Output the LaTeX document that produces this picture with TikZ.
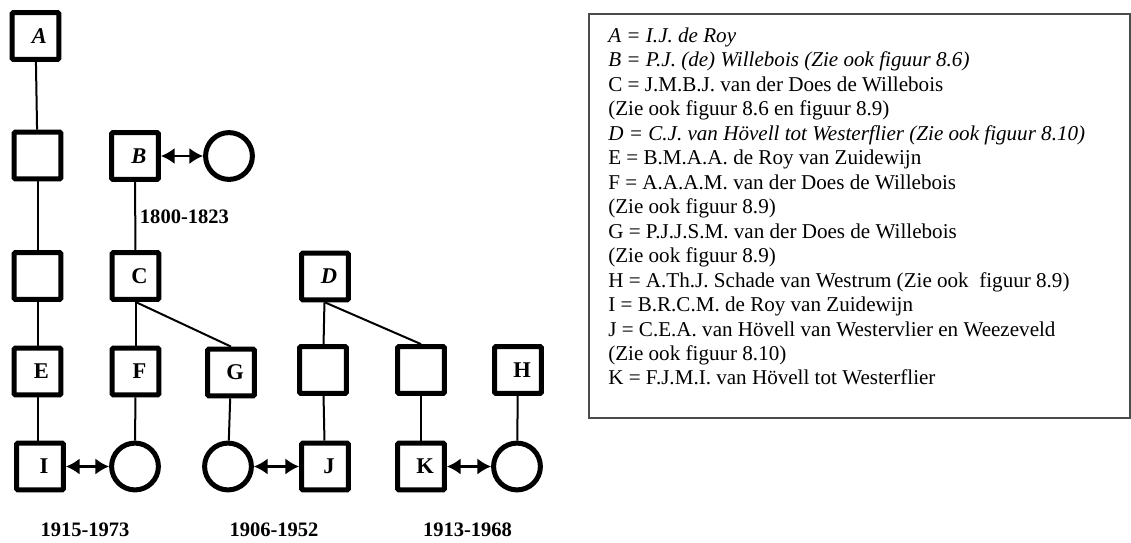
\documentclass[tikz,border=0pt]{standalone}
\usepackage{fontspec}
\setmainfont{Liberation Serif}
\usetikzlibrary{arrows.meta}
\tikzset{
	man/.style={draw, line width=1.25mm, minimum size=1.17cm, inner sep=0pt, rounded corners=0.3mm, font=\fontsize{16}{18}\selectfont\bfseries, execute at begin node={\hspace{2mm}}},
	woman/.style={draw, circle, line width=1.25mm, minimum size=1.17cm, inner sep=0pt},
	link/.style={line width=0.5mm},
	wed/.style={line width=0.55mm, {Latex[length=3.4mm,width=4mm]}-{Latex[length=3.4mm,width=4mm]}},
	years/.style={font=\fontsize{14.6}{17}\selectfont\bfseries},
	legend/.style={font=\fontsize{15}{17.4}\selectfont, align=left, inner sep=0pt}
}

\begin{document}
\begin{tikzpicture}[x=0.025cm, y=-0.025cm]
		%%%%% START %%%%%
		\useasboundingbox (0, 0) rectangle (1131, 542);
		
		% left line
		\node[man] (A) at (35.5, 36) {\textit{A}};
		\node[man] (a1) at (37.5, 155.5) {};
		\node[man] (a2) at (37.5, 276) {};
		\node[man] (E) at (37.5, 371.5) {E};
		\node[man] (I) at (40, 466.5) {I};
		
		\draw[link] (A) -- (a1);
		\draw[link] (a1) -- (a2);
		\draw[link] (a2) -- (E);
		\draw[link] (E.south) -- (E.south |- I.north);
		
		% B and descendants
		\node[man] (B) at (135, 156) {\textit{B}};
		\node[woman] (bw) at (229, 156) {};
		\draw[wed] (B) -- (bw);
		\node[years, anchor=west] (byr) at (135, 217) {1800-1823};
		
		\node[man] (C) at (135.5, 276) {C};
		\node[man] (F) at (135.5, 371.5) {F};
		\node[man] (G) at (231, 372.5) {G};
		\node[woman] (fc) at (135, 466.5) {};
		\node[woman] (gc) at (228, 466.5) {};
		
		\draw[link] (B) -- (C);
		\draw[link] (C) -- (F);
		\draw[link] (C.south) -- (G.north);
		\draw[link] (F) -- (fc);
		\draw[link] (G) -- (gc);
		
		% D and descendants
		\node[man] (D) at (325, 276.5) {\textit{D}};
		\node[man] (d1) at (323, 370) {};
		\node[man] (d2) at (421, 370) {};
		\node[man] (J) at (325, 466.5) {J};
		\node[man] (K) at (421, 466.5) {K};
		
		\draw[link] (D) -- (d1);
		\draw[link] (D.south) -- (d2.north);
		\draw[link] (d1) -- (J);
		\draw[link] (d2) -- (K);
		
		% H
		\node[man] (H) at (518, 370) {H};
		\node[woman] (hc) at (517, 466.5) {};
		\draw[link] (H) -- (hc);
		
		% marriages
		\draw[wed] (I) -- (fc);
		\draw[wed] (gc) -- (J);
		\draw[wed] (K) -- (hc);
		
		\node[years] (y1) at (85, 530) {1915-1973};
		\node[years] (y2) at (274, 530) {1906-1952};
		\node[years] (y3) at (467.5, 530) {1913-1968};
		
		% legend
		\draw[line width=0.4mm, color=black!70] (589, 14) rectangle (1130, 418);
		\node[legend, anchor=north west] (key) at (608, 27.5) {%
			\textit{A = I.J. de Roy}\\
			\textit{B = P.J. (de) Willebois (Zie ook figuur 8.6)}\\
			C = J.M.B.J. van der Does de Willebois\\
			(Zie ook figuur 8.6 en figuur 8.9)\\
			\textit{D = C.J. van Hövell tot Westerflier (Zie ook figuur 8.10)}\\
			E = B.M.A.A. de Roy van Zuidewijn\\
			F = A.A.A.M. van der Does de Willebois\\
			(Zie ook figuur 8.9)\\
			G = P.J.J.S.M. van der Does de Willebois\\
			(Zie ook figuur 8.9)\\
			H = A.Th.J. Schade van Westrum (Zie ook~ figuur 8.9)\\
			I = B.R.C.M. de Roy van Zuidewijn\\
			J = C.E.A. van Hövell van Westervlier en Weezeveld\\
			(Zie ook figuur 8.10)\\
			K = F.J.M.I. van Hövell tot Westerflier};
		
		%%%%% END %%%%%
	\end{tikzpicture}
\end{document}
